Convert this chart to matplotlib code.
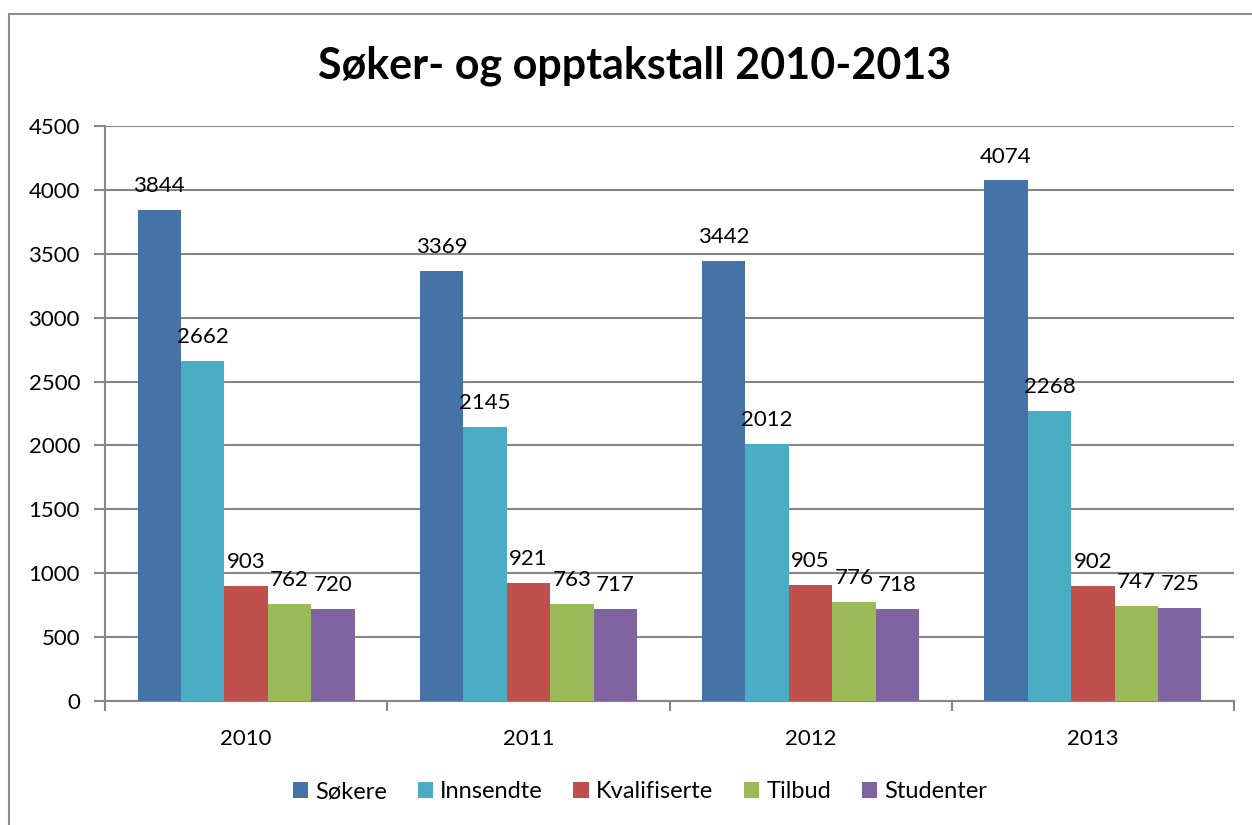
import matplotlib
matplotlib.use("Agg")
import matplotlib.pyplot as plt
from matplotlib.patches import Rectangle
import numpy as np

plt.rcParams['font.family'] = ['Lato', 'DejaVu Sans']

years = ["2010", "2011", "2012", "2013"]
series_names = ["Søkere", "Innsendte", "Kvalifiserte", "Tilbud", "Studenter"]
sokere = [3844, 3369, 3442, 4074]
innsendte = [2662, 2145, 2012, 2268]
kvalifiserte = [903, 921, 905, 902]
tilbud = [762, 763, 776, 747]
studenter = [720, 717, 718, 725]
colors = ["#4572A7", "#4BACC6", "#C0504D", "#9BBB59", "#8064A2"]
yticks = [0, 500, 1000, 1500, 2000, 2500, 3000, 3500, 4000, 4500]

values = [sokere, innsendte, kvalifiserte, tilbud, studenter]

W, H = 1252, 825
fig = plt.figure(figsize=(W / 100, H / 100), dpi=100)
fig.patch.set_facecolor("white")
fig.patches.append(Rectangle((9 / W, -0.05), 1.2, (H - 14) / H + 0.05,
                             transform=fig.transFigure, fill=False,
                             edgecolor="#8c8c8c", linewidth=1.5, zorder=0))

ax = fig.add_axes([105 / W, 1 - 701 / H, (1234 - 105) / W, (701 - 126) / H])

x = np.arange(len(years))
bw = 1 / 6.5
for i, (name, vals, c) in enumerate(zip(series_names, values, colors)):
    pos = x - 2.5 * bw + bw * (i + 0.5)
    ax.bar(pos, vals, width=bw, color=c, label=name, zorder=3, linewidth=0)
    for p, v in zip(pos, vals):
        ax.annotate(str(v), (p, v), xytext=(0, 10), textcoords="offset points",
                    ha="center", va="bottom", fontsize=16, color="black")

ax.set_xlim(-0.5, len(years) - 0.5)
ax.set_ylim(0, 4500)
ax.set_yticks(yticks)
ax.set_yticklabels([str(t) for t in yticks], fontsize=16)
ax.yaxis.grid(True, color="#868686", linewidth=1.5, zorder=0)
ax.set_axisbelow(True)

ax.set_xticks(x)
ax.set_xticklabels(years, fontsize=16)
ax.tick_params(axis="x", length=0, pad=20)
ax.set_xticks(np.arange(-0.5, len(years)), minor=True)
ax.tick_params(axis="x", which="minor", length=7, width=1.5, color="#868686")
ax.tick_params(axis="y", length=8, width=1.5, color="#868686", pad=10)

for s in ["top", "right"]:
    ax.spines[s].set_visible(False)
for s in ["left", "bottom"]:
    ax.spines[s].set_color("#868686")
    ax.spines[s].set_linewidth(1.5)

fig.text(0.507, 1 - 66 / H, "Søker- og opptakstall 2010-2013", ha="center", va="center",
         fontsize=31, fontweight="bold")

leg = fig.legend(loc="center", bbox_to_anchor=(0.511, 1 - 792 / H), ncol=5, frameon=False,
                 fontsize=17, handlelength=0.65, handleheight=0.65, handletextpad=0.3,
                 columnspacing=1.3)

fig.savefig("out.png", dpi=100)
